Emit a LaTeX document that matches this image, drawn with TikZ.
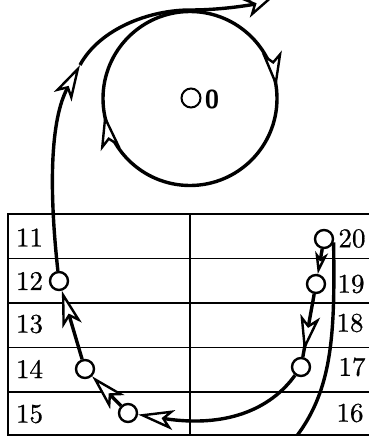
\documentclass[tikz,border=0pt]{standalone}
\usepackage{fontspec}
\newfontfamily\numfont{lmroman10-regular.otf}[FakeBold=0.7]
\newfontfamily\zerofont{lmsans10-bold.otf}
\usetikzlibrary{arrows.meta,decorations.markings}
\newcommand{\bigtipspec}{Stealth[length=36pt,width=20pt,inset=9pt,fill=white,line width=2.4pt]}
\begin{document}
\begin{tikzpicture}[x=1pt,y=-1pt,
  bigarr/.style={-{Stealth[length=36pt,width=20pt,inset=9pt,fill=white,line width=2.4pt]}},
  smallarr/.style={-{Stealth[length=22pt,width=13pt,inset=6pt,fill=white,line width=2.4pt]}},
  tbl/.style={line width=1.6pt},
  curve/.style={line width=3.4pt},
  dot/.style={circle,draw,line width=2.4pt,minimum size=18pt,inner sep=0pt,fill=white},
  num/.style={inner sep=0pt,font=\fontsize{27}{27}\numfont},
  zero/.style={inner sep=0pt,font=\fontsize{26}{26}\zerofont},
  markat/.style={postaction={decorate},decoration={markings,mark=at position #1 with {\arrow{Stealth[length=36pt,width=20pt,inset=9pt,fill=white,line width=2.4pt]}}}}
]
\useasboundingbox (0,0) rectangle (369,436);
\clip (0,0) rectangle (369,436);
% table
\draw[tbl] (8,214) rectangle (380,435);
\foreach \y in {258.5,303,347.5,392} \draw[tbl] (8,\y) -- (380,\y);
\draw[tbl] (190,214) -- (190,435);
% labels
\node[num] (l11) at (29.5,237.5) {11};
\node[num] (l12) at (29.5,281) {12};
\node[num] (l13) at (29.5,324) {13};
\node[num] (l14) at (29.5,369) {14};
\node[num] (l15) at (29.5,414) {15};
\node[num] (l20) at (352,238.5) {20};
\node[num] (l19) at (351,284) {19};
\node[num] (l18) at (350,323) {18};
\node[num] (l17) at (352,367) {17};
\node[num] (l16) at (350,413) {16};
% dots
\node[dot] (n20) at (324,239) {};
\node[dot] (n19) at (316,284) {};
\node[dot] (n17) at (301,367) {};
\node[dot] (n15) at (128,413) {};
\node[dot] (n14) at (85,369) {};
\node[dot] (n12) at (59,281) {};
\node[dot,line width=2pt,minimum size=19pt] (o0) at (191,98) {};
\node[zero] (l0) at (212,99) {0};
\coordinate (c0) at (190,98.5);
\coordinate (bend) at (80,65);
\coordinate (topexit) at (278,-7);
\coordinate (botexit) at (283,452);
% big circle
\draw[curve,postaction={decorate},decoration={markings,
   mark=at position 0.472 with {\arrow{\bigtipspec}},
   mark=at position 0.98 with {\arrow{\bigtipspec}}}]
  (c0) ++(0:87) arc[start angle=0,end angle=360,radius=87];
% outer path
\draw[curve,bigarr] (n12) .. controls (49,190) and (50,120) .. (bend);
\draw[curve,bigarr] (bend) .. controls (100,28.3) and (150,10) .. (190,10)
   .. controls (225,10) and (255,4) .. (topexit);
% chain in table
\draw[curve,smallarr] (n20) -- (n19);
\draw[curve,markat=0.91] (n19) -- (n17);
\draw[curve,bigarr] (n17) .. controls (270,410) and (225,428) .. (n15);
\draw[curve,bigarr] (n15) -- (n14);
\draw[curve,bigarr] (n14) -- (n12);
\draw[curve] (n20.-20) .. controls (335,340) and (333,400) .. (botexit);
\end{tikzpicture}
\end{document}
